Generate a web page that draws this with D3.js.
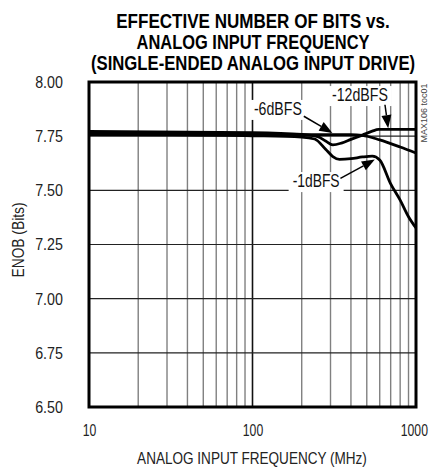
<!DOCTYPE html>
<html>
<head>
<meta charset="utf-8">
<script src="https://cdn.jsdelivr.net/npm/d3@7"></script>
<style>
  body { margin: 0; background: #fff; }
  svg { display: block; font-family: "Liberation Sans Narrow", "Liberation Sans", "DejaVu Sans", sans-serif; }
</style>
</head>
<body>
<div id="chart"></div>
<script>
// chart values
var titleLines = ["EFFECTIVE NUMBER OF BITS vs.", "ANALOG INPUT FREQUENCY", "(SINGLE-ENDED ANALOG INPUT DRIVE)"];
var xTicks = [10, 100, 1000];
var xGrid = [20, 30, 40, 50, 60, 70, 80, 90, 100, 200, 300, 400, 500, 600, 700, 800, 900];
var yTicks = [6.50, 6.75, 7.00, 7.25, 7.50, 7.75, 8.00];
var seriesNames = ["-12dBFS", "-6dBFS", "-1dBFS"];

var freq12 = [10, 100, 200, 250, 280, 310, 350, 400, 470, 540, 590, 700, 1000];
var enob12 = [7.772, 7.766, 7.758, 7.748, 7.728, 7.71, 7.718, 7.735, 7.755, 7.773, 7.781, 7.781, 7.781];

var freq6 = [10, 100, 200, 300, 400, 470, 600, 800, 1000];
var enob6 = [7.765, 7.761, 7.757, 7.757, 7.757, 7.754, 7.733, 7.70, 7.672];

var freq1 = [10, 30, 100, 200, 240, 280, 310, 340, 400, 470, 540, 600, 700, 800, 900, 1000];
var enob1 = [7.757, 7.756, 7.752, 7.746, 7.737, 7.69, 7.656, 7.643, 7.646, 7.654, 7.658, 7.64, 7.53, 7.455, 7.378, 7.326];

var width = 430, height = 469;
var margin = {top: 82, right: 14, bottom: 62, left: 89};

var svg = d3.select("#chart").append("svg")
    .attr("width", width)
    .attr("height", height);

var x = d3.scaleLog().domain([10, 1000]).range([margin.left, width - margin.right]);
var y = d3.scaleLinear().domain([6.5, 8]).range([height - margin.bottom, margin.top]);

// narrow text: place at (px,py) and squeeze it to a target width
function narrowText(parent, px, py, str, size, targetW, rot) {
    var g = parent.append("g");
    var t = g.append("text")
        .attr("font-size", size)
        .attr("text-anchor", "middle")
        .text(str);
    var w = t.node().getComputedTextLength();
    var sx = targetW / w;
    g.attr("transform", "translate(" + px + "," + py + ")" + (rot ? " rotate(" + rot + ")" : "") + " scale(" + sx + ",1)");
    return t;
}

// title
titleLines.forEach(function(d, i) {
    narrowText(svg, 253, [28, 49, 70][i], d, 21, [270, 230, 320][i])
        .attr("font-weight", "bold");
});

// grid
svg.append("g")
    .selectAll("line")
    .data(xGrid)
    .enter()
    .append("line")
    .attr("x1", function(d) { return x(d); })
    .attr("x2", function(d) { return x(d); })
    .attr("y1", y(8))
    .attr("y2", y(6.5))
    .attr("stroke", function(d) { return d == 100 ? "#111" : "#808080"; })
    .attr("stroke-width", function(d) { return d == 100 ? 1.6 : 1.4; });

svg.append("g")
    .selectAll("line")
    .data(yTicks.slice(1, -1))
    .enter()
    .append("line")
    .attr("x1", x(10))
    .attr("x2", x(1000))
    .attr("y1", function(d) { return y(d); })
    .attr("y2", function(d) { return y(d); })
    .attr("stroke", "#222")
    .attr("stroke-width", 1.2);

// axes tick labels
var yAxis = d3.axisLeft(y).tickValues(yTicks).tickSize(0).tickPadding(31).tickFormat(d3.format(".2f"));
var gy = svg.append("g").attr("transform", "translate(" + margin.left + ",0)").call(yAxis);
gy.select(".domain").remove();
gy.selectAll("text").attr("font-size", 17).attr("font-family", null).attr("fill", "#222")
    .attr("transform", "scale(0.84,1)");

var xAxis = d3.axisBottom(x).tickValues(xTicks).tickSize(0).tickPadding(17).tickFormat(d3.format("d"));
var gx = svg.append("g").attr("transform", "translate(0," + (height - margin.bottom) + ")").call(xAxis);
gx.select(".domain").remove();
gx.selectAll("text").attr("font-size", 17).attr("font-family", null).attr("fill", "#222")
    .attr("transform", "scale(0.72,1)");
gx.selectAll(".tick").filter(function(d) { return d == 1000; })
    .select("text").attr("x", -3);

// axis titles
narrowText(svg, 252, 464, "ANALOG INPUT FREQUENCY (MHz)", 17, 230).attr("fill", "#222");
narrowText(svg, 24, 240, "ENOB (Bits)", 17, 75, -90).attr("fill", "#222");
narrowText(svg, 427, 113, "MAX106 toc01", 9, 59, -90).attr("fill", "#444");

// curves
var line = d3.line()
    .x(function(d) { return x(d[0]); })
    .y(function(d) { return y(d[1]); })
    .curve(d3.curveMonotoneX);

var series = [d3.zip(freq12, enob12), d3.zip(freq6, enob6), d3.zip(freq1, enob1)];

svg.append("g")
    .selectAll("path")
    .data(series)
    .enter()
    .append("path")
    .attr("d", line)
    .attr("fill", "none")
    .attr("stroke", "#000")
    .attr("stroke-width", 2.8)
    .attr("stroke-linejoin", "round");

// labels with arrows (in data coordinates)
var notes = [
    {text: seriesNames[0], tx: 454, ty: 7.912, w: 56, from: [646, 7.895], to: [676, 7.787]},
    {text: seriesNames[1], tx: 143, ty: 7.848, w: 48, from: [206, 7.842], to: [308, 7.765]},
    {text: seriesNames[2], tx: 245, ty: 7.515, w: 47, from: [345, 7.555], to: [560, 7.642]}
];

notes.forEach(function(d) {
    var g = svg.append("g");
    var cx = x(d.tx), cy = y(d.ty);
    // white box behind the label
    g.append("rect")
        .attr("x", cx - d.w / 2 - 4)
        .attr("y", cy - 15)
        .attr("width", d.w + 8)
        .attr("height", 20)
        .attr("fill", "#fff");
    narrowText(g, cx, cy, d.text, 19, d.w).attr("fill", "#111");

    // arrow shaft + filled head
    var x0 = x(d.from[0]), y0 = y(d.from[1]), x1 = x(d.to[0]), y1 = y(d.to[1]);
    var ang = Math.atan2(y1 - y0, x1 - x0);
    var hl = 13, hw = 5;
    var bx = x1 - hl * Math.cos(ang), by = y1 - hl * Math.sin(ang);
    g.append("line")
        .attr("x1", x0).attr("y1", y0).attr("x2", bx).attr("y2", by)
        .attr("stroke", "#000").attr("stroke-width", 1.5);
    g.append("path")
        .attr("d", "M" + x1 + "," + y1 +
            "L" + (bx + hw * Math.sin(ang)) + "," + (by - hw * Math.cos(ang)) +
            "L" + (bx - hw * Math.sin(ang)) + "," + (by + hw * Math.cos(ang)) + "Z")
        .attr("fill", "#000");
});

// frame
svg.append("rect")
    .attr("x", x(10))
    .attr("y", y(8))
    .attr("width", x(1000) - x(10))
    .attr("height", y(6.5) - y(8))
    .attr("fill", "none")
    .attr("stroke", "#000")
    .attr("stroke-width", 3);
</script>
</body>
</html>
